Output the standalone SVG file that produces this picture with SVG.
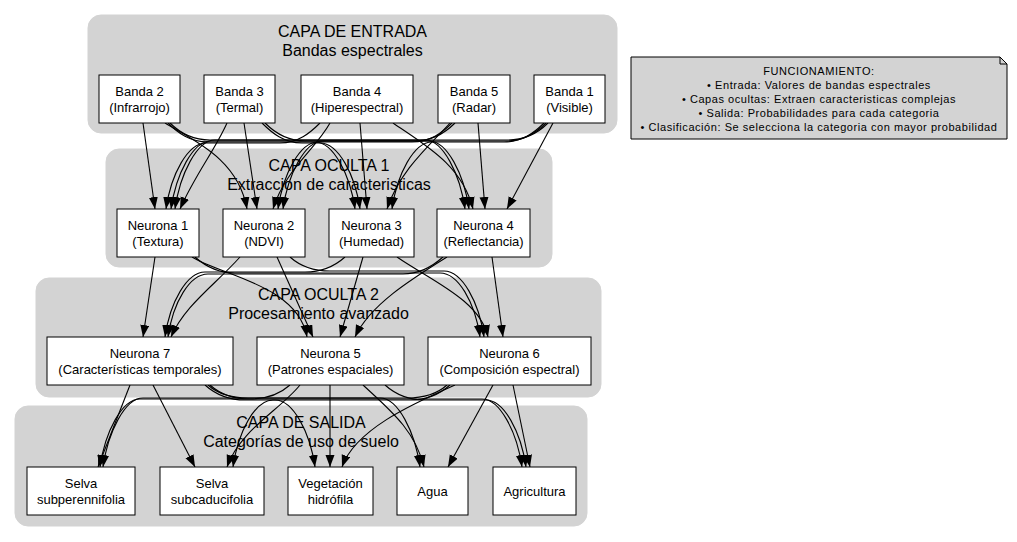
<svg xmlns="http://www.w3.org/2000/svg" width="1017" height="542" viewBox="0 0 1017 542">
<style>
text{font-family:"Liberation Sans",Arial,sans-serif;fill:#000}
.cl{fill:#d3d3d3;stroke:#d3d3d3}
.ct{font-size:16px;text-anchor:middle}
.nd{fill:#fff;stroke:#000;stroke-width:1}
.nt{font-size:13px;text-anchor:middle}
.e{fill:none;stroke:#000;stroke-width:1.1;marker-end:url(#ah)}
.note{fill:#d3d3d3;stroke:#000;stroke-width:1}
.ntx{font-size:11px;text-anchor:middle;letter-spacing:0.55px}
</style>
<defs>
<marker id="ah" markerUnits="userSpaceOnUse" markerWidth="13" markerHeight="10" refX="12" refY="4.5" orient="auto">
<path d="M0,0 L12,4.5 L0,9 z" fill="#000"/>
</marker>
</defs>
<rect width="1017" height="542" fill="#fff"/>
<g id="clusters">
<g id="capa_entrada"><rect class="cl" x="88" y="15" width="529" height="118" rx="13"/>
<text class="ct" x="352.5" y="37">CAPA DE ENTRADA</text><text class="ct" x="352.5" y="56">Bandas espectrales</text></g>
<g id="capa_oculta1"><rect class="cl" x="106" y="149" width="446" height="118" rx="13"/>
<text class="ct" x="329" y="171">CAPA OCULTA 1</text><text class="ct" x="329" y="190">Extraccion de caracteristicas</text></g>
<g id="capa_oculta2"><rect class="cl" x="36" y="278" width="565" height="119" rx="13"/>
<text class="ct" x="318.5" y="300">CAPA OCULTA 2</text><text class="ct" x="318.5" y="319">Procesamiento avanzado</text></g>
<g id="capa_salida"><rect class="cl" x="15" y="406" width="572" height="120" rx="13"/>
<text class="ct" x="301" y="428">CAPA DE SALIDA</text><text class="ct" x="301" y="447">Categorías de uso de suelo</text></g>
</g>
<g id="connectors">
<path class="e" d="M143,123 L155,209"/>
<path class="e" d="M165,123 C192,140 238,158 247,209"/>
<path class="e" d="M168,123 C178,133 190,142 208,142 L315,142 C333,142 350,174 355,209"/>
<path class="e" d="M170,123 C180,133 192,140 210,140 L425,140 C443,140 460,174 465,209"/>
<path class="e" d="M227,123 C215,150 195,175 180,209"/>
<path class="e" d="M244,123 L257,209"/>
<path class="e" d="M262,123 C272,133 284,143 302,143 L320,143 C338,143 355,174 360,209"/>
<path class="e" d="M265,123 C275,133 287,141 305,141 L429,141 C447,141 464,174 469,209"/>
<path class="e" d="M320,123 C310,133 298,143 280,143 L206,143 C188,143 171,174 166,209"/>
<path class="e" d="M330,123 C315,150 285,170 273,209"/>
<path class="e" d="M360,123 L367,209"/>
<path class="e" d="M393,123 C425,145 462,165 473,209"/>
<path class="e" d="M455,123 C445,133 433,141 415,141 L211,141 C193,141 176,174 171,209"/>
<path class="e" d="M452,123 C442,133 430,142 412,142 L318,142 C300,142 283,174 278,209"/>
<path class="e" d="M450,123 C430,145 400,170 387,209"/>
<path class="e" d="M478,123 L485,209"/>
<path class="e" d="M548,123 C538,133 526,140 508,140 L215,140 C197,140 180,174 175,209"/>
<path class="e" d="M546,123 C536,133 524,141 506,141 L323,141 C305,141 288,174 283,209"/>
<path class="e" d="M544,123 C534,133 522,142 504,142 L432,142 C414,142 397,174 392,209"/>
<path class="e" d="M553,123 L507,209"/>
<path class="e" d="M155,257 L143,337"/>
<path class="e" d="M192,257 C220,275 298,285 307,337"/>
<path class="e" d="M195,257 C205,266 217,273 235,273 L440,273 C458,273 475,302 480,337"/>
<path class="e" d="M240,257 C215,285 185,305 171,337"/>
<path class="e" d="M277,257 L313,337"/>
<path class="e" d="M290,257 C300,266 312,271 330,271 L444,271 C462,271 479,302 484,337"/>
<path class="e" d="M345,257 C335,266 323,272 305,272 L205,272 C187,272 170,302 165,337"/>
<path class="e" d="M363,257 L340,337"/>
<path class="e" d="M397,257 C430,280 480,300 488,337"/>
<path class="e" d="M443,257 C433,266 421,274 403,274 L208,274 C190,274 173,302 168,337"/>
<path class="e" d="M447,257 C410,280 370,305 355,337"/>
<path class="e" d="M492,257 L503,337"/>
<path class="e" d="M130,385 L98,467"/>
<path class="e" d="M153,385 L195,467"/>
<path class="e" d="M205,385 C215,394 227,400 245,400 L275,400 C293,400 310,432 315,467"/>
<path class="e" d="M208,385 C218,394 230,398 248,398 L380,398 C398,398 415,432 420,467"/>
<path class="e" d="M210,385 C220,394 232,399 250,399 L482,399 C500,399 517,432 522,467"/>
<path class="e" d="M290,385 C280,394 268,399 250,399 L140,399 C122,399 105,432 100,467"/>
<path class="e" d="M300,385 C280,410 240,430 227,467"/>
<path class="e" d="M330,385 L330,467"/>
<path class="e" d="M363,385 C390,410 415,430 424,467"/>
<path class="e" d="M385,385 C395,394 407,400 425,400 L486,400 C504,400 521,432 526,467"/>
<path class="e" d="M447,385 C437,394 425,398 407,398 L143,398 C125,398 108,432 103,467"/>
<path class="e" d="M450,385 C440,394 428,400 410,400 L273,400 C255,400 238,432 233,467"/>
<path class="e" d="M455,385 C410,405 355,430 342,467"/>
<path class="e" d="M493,385 L448,467"/>
<path class="e" d="M513,385 L530,467"/>
</g>
<g id="banda2"><rect class="nd" x="99" y="75" width="81" height="48"/><text class="nt" x="139.5" y="95.5">Banda 2</text><text class="nt" x="139.5" y="111.5">(Infrarrojo)</text></g>
<g id="banda3"><rect class="nd" x="204" y="75" width="71" height="48"/><text class="nt" x="239.5" y="95.5">Banda 3</text><text class="nt" x="239.5" y="111.5">(Termal)</text></g>
<g id="banda4"><rect class="nd" x="301" y="75" width="112" height="48"/><text class="nt" x="357" y="95.5">Banda 4</text><text class="nt" x="357" y="111.5">(Hiperespectral)</text></g>
<g id="banda5"><rect class="nd" x="438" y="75" width="72" height="48"/><text class="nt" x="474" y="95.5">Banda 5</text><text class="nt" x="474" y="111.5">(Radar)</text></g>
<g id="banda1"><rect class="nd" x="534" y="75" width="71" height="48"/><text class="nt" x="569.5" y="95.5">Banda 1</text><text class="nt" x="569.5" y="111.5">(Visible)</text></g>
<g id="neurona1"><rect class="nd" x="117" y="209" width="82" height="48"/><text class="nt" x="158" y="229.5">Neurona 1</text><text class="nt" x="158" y="245.5">(Textura)</text></g>
<g id="neurona2"><rect class="nd" x="223" y="209" width="82" height="48"/><text class="nt" x="264" y="229.5">Neurona 2</text><text class="nt" x="264" y="245.5">(NDVI)</text></g>
<g id="neurona3"><rect class="nd" x="329" y="209" width="85" height="48"/><text class="nt" x="371.5" y="229.5">Neurona 3</text><text class="nt" x="371.5" y="245.5">(Humedad)</text></g>
<g id="neurona4"><rect class="nd" x="437" y="209" width="93" height="48"/><text class="nt" x="483.5" y="229.5">Neurona 4</text><text class="nt" x="483.5" y="245.5">(Reflectancia)</text></g>
<g id="neurona7"><rect class="nd" x="47" y="337" width="186" height="48"/><text class="nt" x="140" y="357.5">Neurona 7</text><text class="nt" x="140" y="373.5">(Características temporales)</text></g>
<g id="neurona5"><rect class="nd" x="257" y="337" width="147" height="48"/><text class="nt" x="330.5" y="357.5">Neurona 5</text><text class="nt" x="330.5" y="373.5">(Patrones espaciales)</text></g>
<g id="neurona6"><rect class="nd" x="428" y="337" width="163" height="48"/><text class="nt" x="509.5" y="357.5">Neurona 6</text><text class="nt" x="509.5" y="373.5">(Composición espectral)</text></g>
<g id="selva_subperennifolia"><rect class="nd" x="27" y="467" width="108" height="48"/><text class="nt" x="81" y="487.5">Selva</text><text class="nt" x="81" y="503.5">subperennifolia</text></g>
<g id="selva_subcaducifolia"><rect class="nd" x="160" y="467" width="104" height="48"/><text class="nt" x="212" y="487.5">Selva</text><text class="nt" x="212" y="503.5">subcaducifolia</text></g>
<g id="vegetacion_hidrofila"><rect class="nd" x="288" y="467" width="85" height="48"/><text class="nt" x="330.5" y="487.5">Vegetación</text><text class="nt" x="330.5" y="503.5">hidrófila</text></g>
<g id="agua"><rect class="nd" x="397" y="467" width="71" height="48"/><text class="nt" x="432.5" y="495.5">Agua</text></g>
<g id="agricultura"><rect class="nd" x="493" y="467" width="83" height="48"/><text class="nt" x="534.5" y="495.5">Agricultura</text></g>
<g id="nota">
<path class="note" d="M631,57 L1000,57 L1007,64 L1007,139 L631,139 Z"/>
<path d="M1000,57 L1000,64 L1007,64" fill="none" stroke="#000" stroke-width="1"/>
<text class="ntx" x="819" y="75">FUNCIONAMIENTO:</text>
<text class="ntx" x="819" y="89">• Entrada: Valores de bandas espectrales</text>
<text class="ntx" x="819" y="103">• Capas ocultas: Extraen caracteristicas complejas</text>
<text class="ntx" x="819" y="117">• Salida: Probabilidades para cada categoria</text>
<text class="ntx" x="819" y="131">• Clasificación: Se selecciona la categoria con mayor probabilidad</text>
</g>
</svg>
